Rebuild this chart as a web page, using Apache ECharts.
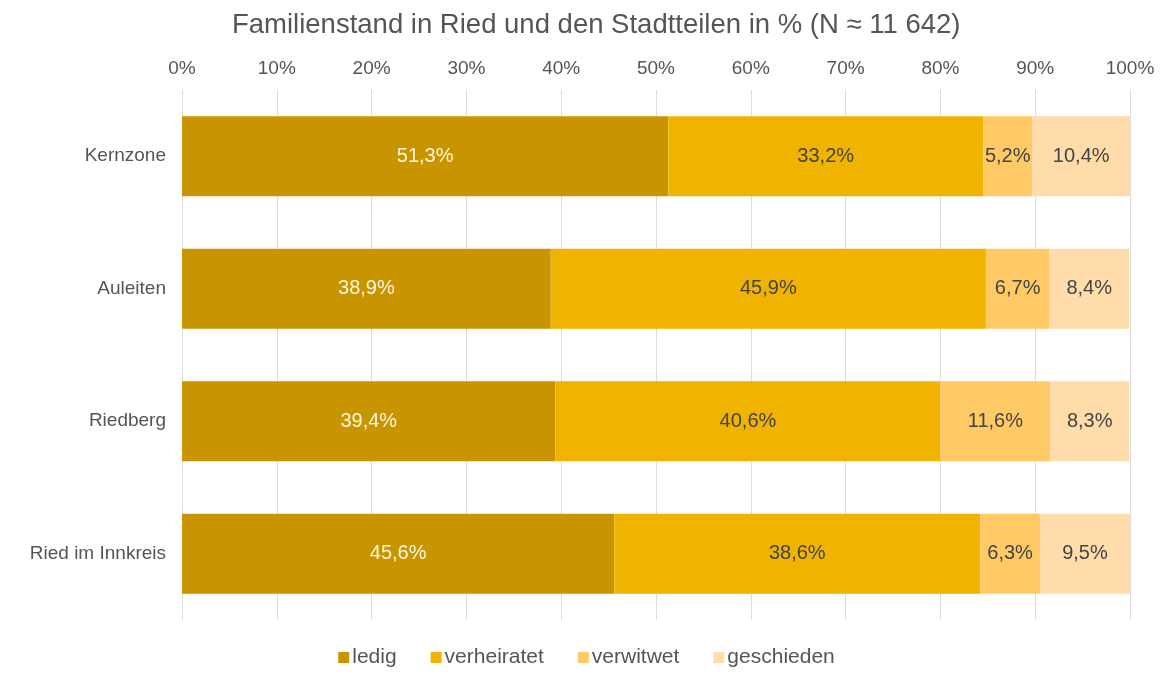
<!DOCTYPE html>
<html>
<head>
<meta charset="utf-8">
<title>Familienstand</title>
<script src="https://cdn.jsdelivr.net/npm/echarts@6/dist/echarts.min.js"></script>
<style>
  html, body { margin: 0; padding: 0; background: #fff; }
  #myChart { width: 1173px; height: 675px; }
</style>
</head>
<body>
<div id="myChart"></div>
<script>
// Stadtteile (von oben nach unten)
var categories = ["Kernzone", "Auleiten", "Riedberg", "Ried im Innkreis"];
var seriesNames = ["ledig", "verheiratet", "verwitwet", "geschieden"];
var ledig = [51.3, 38.9, 39.4, 45.6];
var verheiratet = [33.2, 45.9, 40.6, 38.6];
var verwitwet = [5.2, 6.7, 11.6, 6.3];
var geschieden = [10.4, 8.4, 8.3, 9.5];
var tickLabels = ["0%", "10%", "20%", "30%", "40%", "50%", "60%", "70%", "80%", "90%", "100%"];

var colors = ["#c89500", "#f0b400", "#ffc966", "#ffdcaa"];
var labelColors = ["#fff6e0", "#444444", "#444444", "#444444"];
var values = [ledig, verheiratet, verwitwet, geschieden];
var font = "Liberation Sans, Arial, sans-serif";

var series = seriesNames.map(function (name, i) {
  return {
    name: name,
    type: "bar",
    stack: "gesamt",
    barWidth: 80,
    data: values[i],
    itemStyle: { color: colors[i] },
    label: {
      show: true,
      position: "inside",
      color: labelColors[i],
      fontSize: 20,
      fontFamily: font,
      formatter: function (p) {
        return String(p.value).replace(".", ",") + "%";
      }
    },
    emphasis: { disabled: true }
  };
});

var options = {
  animation: false,
  title: {
    text: "Familienstand in Ried und den Stadtteilen in % (N \u2248 11 642)",
    left: 227,
    top: 6,
    textStyle: {
      fontSize: 27.5,
      fontWeight: "normal",
      color: "#555",
      fontFamily: font
    }
  },
  legend: {
    data: seriesNames,
    bottom: 2,
    left: "center",
    icon: "rect",
    itemWidth: 11,
    itemHeight: 11,
    itemGap: 34,
    textStyle: {
      fontSize: 21,
      color: "#555",
      fontFamily: font,
      padding: [0, 0, 0, -2]
    }
  },
  grid: {
    left: 182,
    right: 43,
    top: 90,
    bottom: 55
  },
  xAxis: {
    type: "value",
    position: "top",
    min: 0,
    max: 100,
    interval: 10,
    axisLine: { show: false },
    axisTick: { show: false },
    axisLabel: {
      color: "#555",
      fontSize: 19,
      margin: 12,
      fontFamily: font,
      formatter: function (v) {
        return tickLabels[Math.round(v / 10)];
      }
    },
    splitLine: { lineStyle: { color: "#dcdcdc", width: 1 } }
  },
  yAxis: {
    type: "category",
    inverse: true,
    data: categories,
    axisLine: { show: false },
    axisTick: { show: false },
    axisLabel: {
      color: "#555",
      fontSize: 19,
      margin: 16,
      fontFamily: font
    }
  },
  series: series
};

var myChart = echarts.init(document.getElementById("myChart"));
myChart.setOption(options, true);
</script>
</body>
</html>
